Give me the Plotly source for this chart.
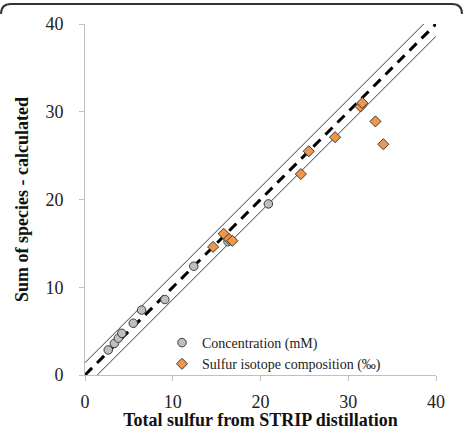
import plotly.graph_objects as go

# Data
conc_x = [2.65, 3.35, 3.8, 4.2, 5.5, 6.45, 9.1, 12.4, 16.3, 20.9]
conc_y = [2.85, 3.6, 4.2, 4.75, 5.9, 7.4, 8.6, 12.4, 15.2, 19.5]

iso_x = [14.6, 15.8, 16.4, 16.8, 24.6, 25.5, 28.5, 31.4, 31.6, 33.1, 34.0]
iso_y = [14.6, 16.1, 15.5, 15.3, 22.9, 25.5, 27.1, 30.6, 31.0, 28.9, 26.3]

one_to_one = [0, 40]
band_offset = 1.4

tick_vals = [0, 10, 20, 30, 40]

W, H = 463, 430
ML, MR, MT, MB = 85, 27, 24, 55
PW = W - ML - MR
PH = H - MT - MB

SERIF = "Liberation Serif, Times New Roman, serif"


def px(x):
    return (x - ML) / PW


def py(y):
    return (H - MB - y) / PH


fig = go.Figure()

# upper band line y = x + offset
fig.add_trace(go.Scatter(
    x=[one_to_one[0], one_to_one[1] - band_offset],
    y=[one_to_one[0] + band_offset, one_to_one[1]],
    mode="lines", line=dict(color="#3a3a3a", width=1), showlegend=False, hoverinfo="skip"))
# lower band line y = x - offset
fig.add_trace(go.Scatter(
    x=[one_to_one[0] + band_offset, one_to_one[1]],
    y=[one_to_one[0], one_to_one[1] - band_offset],
    mode="lines", line=dict(color="#3a3a3a", width=1), showlegend=False, hoverinfo="skip"))
# 1:1 dashed line
fig.add_trace(go.Scatter(
    x=one_to_one, y=one_to_one,
    mode="lines", line=dict(color="black", width=3, dash="10px,7px"),
    showlegend=False, hoverinfo="skip"))

fig.add_trace(go.Scatter(
    x=conc_x, y=conc_y, mode="markers", name="Concentration (mM)",
    marker=dict(symbol="circle", size=8.5, color="#bfbfbf",
                line=dict(color="#3a3a3a", width=1))))
fig.add_trace(go.Scatter(
    x=iso_x, y=iso_y, mode="markers", name="Sulfur isotope composition (‰)",
    marker=dict(symbol="diamond", size=8.5, color="#F0964A",
                line=dict(color="#3a3a3a", width=1))))

# rounded top frame of the figure image
x0, x1 = px(1), px(462)
xa, xb = px(11), px(452)
ytop = py(4)
ylow = py(14)
path = (f"M {x0},{ylow} Q {x0},{ytop} {xa},{ytop} L {xb},{ytop} "
        f"Q {x1},{ytop} {x1},{ylow}")
fig.add_shape(type="path", path=path, xref="paper", yref="paper",
              line=dict(color="#333333", width=2))

axis_common = dict(
    range=[0, 40], tickvals=tick_vals, ticks="outside", ticklen=5,
    tickcolor="#bfbfbf", showline=True, linecolor="#bfbfbf", linewidth=1,
    showgrid=False, zeroline=False, automargin=False,
    tickfont=dict(family=SERIF, size=18, color="#222222"),
)

fig.update_layout(
    width=W, height=H,
    margin=dict(l=ML, r=MR, t=MT, b=MB, autoexpand=False),
    paper_bgcolor="white", plot_bgcolor="white",
    font=dict(family=SERIF),
    xaxis=dict(**axis_common, ticklabelstandoff=5,
               title=dict(text="<b>Total sulfur from STRIP distillation</b>",
                          font=dict(family=SERIF, size=18, color="#111111"),
                          standoff=10)),
    yaxis=dict(**axis_common, ticklabelstandoff=12,
               title=dict(text="<b>Sum of species - calculated</b>",
                          font=dict(family=SERIF, size=18, color="#111111"),
                          standoff=12)),
    legend=dict(x=px(162), y=py(327), xanchor="left", yanchor="top",
                bgcolor="rgba(0,0,0,0)",
                font=dict(family=SERIF, size=14, color="#222222"),
                tracegroupgap=0),
    showlegend=True,
)

fig.write_html("out.html")
